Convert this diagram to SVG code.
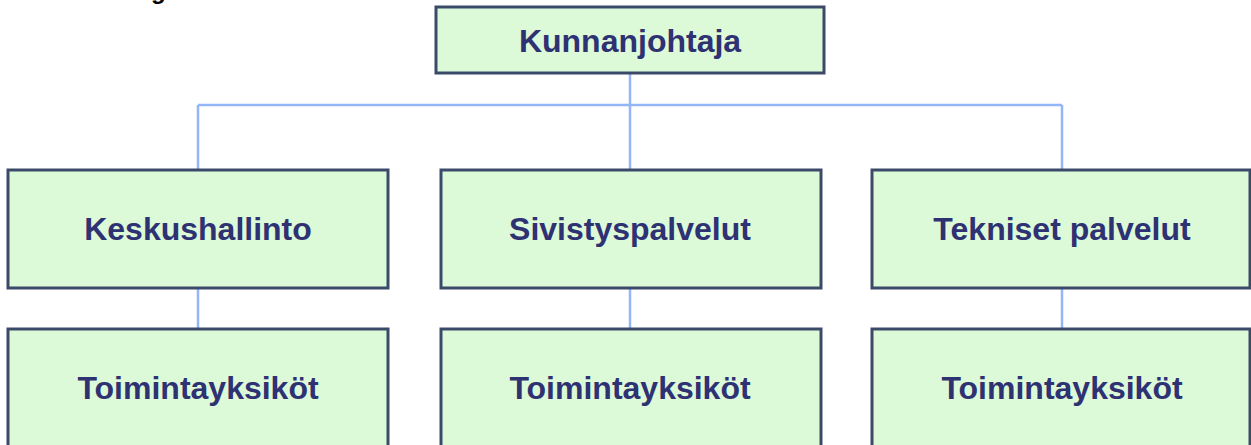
<svg xmlns="http://www.w3.org/2000/svg" width="1251" height="445" viewBox="0 0 1251 445">
<style>
.box{fill:#dcf9d8;stroke:#3c4a6a;stroke-width:3}
.lbl{font-family:"Liberation Sans",Arial,sans-serif;font-weight:bold;font-size:32px;fill:#2e3172;text-anchor:middle}
.conn{stroke:#92b6f7;stroke-width:2.5;fill:none}
</style>
<rect width="1251" height="445" fill="#ffffff"/>
<text x="151" y="-1" style="font-family:'Liberation Sans',Arial,sans-serif;font-weight:bold;font-size:24px;fill:#000">g</text>
<g id="connectors">
<path class="conn" d="M630 73V105M198 105H1062M198 105V170M630 105V170M1062 105V170"/>
<path class="conn" d="M198 288V329M630 288V329M1062 288V329"/>
</g>
<g id="kunnanjohtaja"><rect class="box" x="436" y="7" width="388" height="66"/><text class="lbl" x="630" y="52">Kunnanjohtaja</text></g>
<g id="keskushallinto"><rect class="box" x="8" y="170" width="380" height="118"/><text class="lbl" x="198" y="240">Keskushallinto</text></g>
<g id="sivistyspalvelut"><rect class="box" x="441" y="170" width="380" height="118"/><text class="lbl" x="630" y="240">Sivistyspalvelut</text></g>
<g id="tekniset"><rect class="box" x="872" y="170" width="378" height="118"/><text class="lbl" x="1062" y="240">Tekniset palvelut</text></g>
<g id="toim1"><rect class="box" x="8" y="329" width="380" height="130"/><text class="lbl" x="198" y="399">Toimintayksiköt</text></g>
<g id="toim2"><rect class="box" x="441" y="329" width="380" height="130"/><text class="lbl" x="630" y="399">Toimintayksiköt</text></g>
<g id="toim3"><rect class="box" x="872" y="329" width="378" height="130"/><text class="lbl" x="1062" y="399">Toimintayksiköt</text></g>
</svg>
